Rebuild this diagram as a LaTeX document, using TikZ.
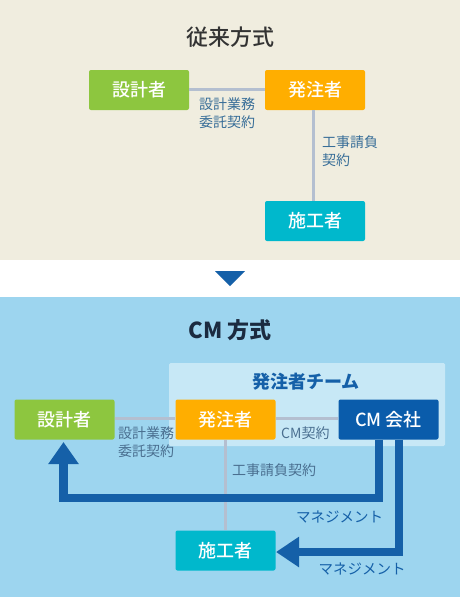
\documentclass[tikz,border=0pt]{standalone}
\usepackage{fontspec}
\newfontfamily\jp{Noto Sans CJK JP}
\newfontfamily\jpm{Noto Sans CJK JP Medium}
\usetikzlibrary{arrows.meta}
\definecolor{beige}{HTML}{F0EDDF}
\definecolor{skyb}{HTML}{9DD5EF}
\definecolor{teamb}{HTML}{C7E8F6}
\definecolor{gr}{HTML}{8DC63F}
\definecolor{og}{HTML}{FFAE00}
\definecolor{cy}{HTML}{00B8CC}
\definecolor{cmb}{HTML}{0A5CAB}
\definecolor{arb}{HTML}{1560A8}
\definecolor{ln}{HTML}{B4BFD0}
\definecolor{lbtop}{HTML}{386E98}
\definecolor{lbbot}{HTML}{4A6F90}
\definecolor{ttl}{HTML}{333333}
\definecolor{ttlb}{HTML}{1B2B40}
\tikzset{
  box/.style={rounded corners=2pt, minimum width=100pt, minimum height=40pt, inner sep=0pt, text=white, font=\jpm\fontsize{18}{20}\selectfont},
  conn/.style={draw=ln, line width=3pt},
  lbl/.style={inner sep=0pt, anchor=west, align=left, font=\jp\fontsize{14}{18}\selectfont},
  big/.style={draw=arb, line width=8.5pt, line join=miter},
  mng/.style={inner sep=0pt, text=arb, font=\jp\fontsize{14.5}{17}\selectfont}
}
\begin{document}
\begin{tikzpicture}[x=1pt,y=-1pt]
\useasboundingbox (0,0) rectangle (460,597);
% backgrounds
\fill[beige] (0,0) rectangle (460,260);
\fill[white] (0,260) rectangle (460,297);
\fill[skyb] (0,297) rectangle (460,597);
\fill[arb] (215,271) -- (245,271) -- (230,286) -- cycle;
% ---- top ----
\node[text=ttl, font=\jpm\fontsize{22}{24}\selectfont] (t1) at (230,37) {従来方式};
\node[box, fill=gr] (a1) at (139,90) {設計者};
\node[box, fill=og] (b1) at (315,90) {発注者};
\node[box, fill=cy] (c1) at (315,221) {施工者};
\draw[conn] (a1.east |- 0,89) -- (b1.west |- 0,89);
\draw[conn] (b1.south -| 313,0) -- (c1.north -| 313,0);
\node[lbl, text=lbtop] (l1) at (199,113) {設計業務\\委託契約};
\node[lbl, text=lbtop] (l2) at (322,151) {工事請負\\契約};
% ---- bottom ----
\node[text=ttlb, font=\jp\bfseries\fontsize{22}{24}\selectfont] (t2) at (230,330) {CM 方式};
\fill[teamb, rounded corners=1.5pt] (169,363) rectangle (445,446);
\node[text=arb, font=\jp\bfseries\fontsize{18}{20}\selectfont] (team) at (306,382) {発注者チーム};
\node[box, fill=gr] (a2) at (64.5,419.5) {設計者};
\node[box, fill=og] (b2) at (225.5,419.5) {発注者};
\node[box, fill=cmb] (m2) at (388.5,419.5) {CM 会社};
\node[box, fill=cy] (c2) at (225.5,550.5) {施工者};
\draw[conn] (a2.east |- 0,418) -- (b2.west |- 0,418);
\draw[conn] (b2.east |- 0,418) -- (m2.west |- 0,418);
\draw[conn] (b2.south) -- (c2.north);
\node[lbl, text=lbbot] (l3) at (118,442) {設計業務\\委託契約};
\node[lbl, text=lbbot] (l4) at (281,433) {CM契約};
\node[lbl, text=lbbot] (l5) at (232,470) {工事請負契約};
% thick arrows
\coordinate (p1) at (379,498);
\coordinate (p2) at (63.5,498);
\coordinate (p3) at (63.5,442);
\draw[big, -{Triangle[width=29pt,length=22pt]}] (m2.south -| p1) -- (p1) -- (p2) -- (p3);
\coordinate (q1) at (399,552);
\coordinate (q2) at (276,552);
\draw[big, -{Triangle[width=29pt,length=23pt]}] (m2.south -| q1) -- (q1) -- (q2);
\node[mng] (n1) at (339.5,517) {マネジメント};
\node[mng] (n2) at (362,569) {マネジメント};
\end{tikzpicture}
\end{document}
